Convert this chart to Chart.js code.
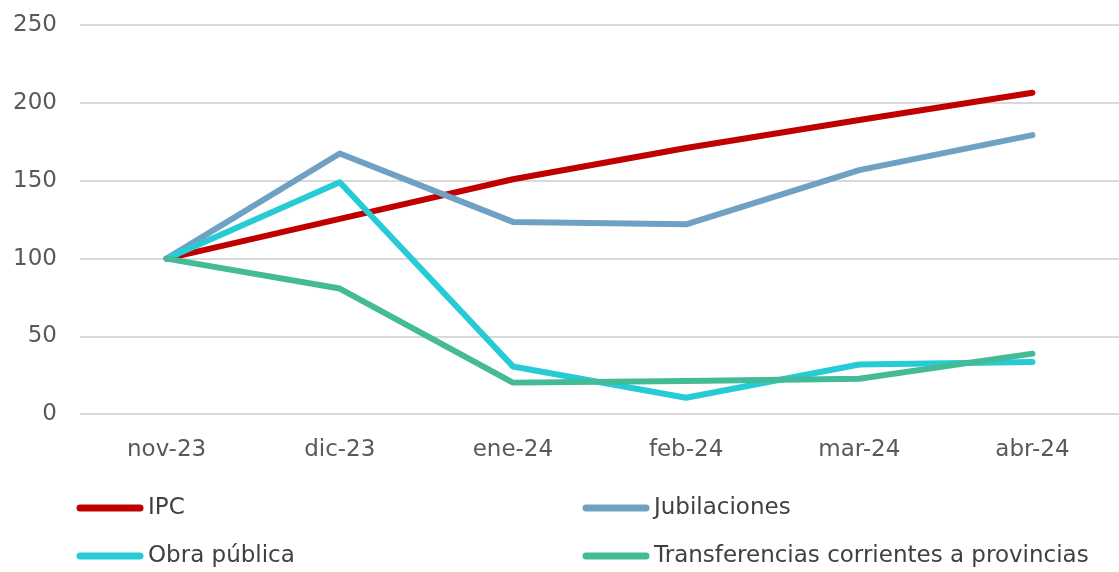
<!DOCTYPE html>
<html>
<head>
<meta charset="utf-8">
<script src="https://cdn.jsdelivr.net/npm/chart.js@4"></script>
<style>
html,body{margin:0;padding:0;background:#fff;}
#wrap{width:1119px;height:572px;position:relative;}
</style>
</head>
<body>
<div id="wrap"><canvas id="c" width="1119" height="572"></canvas></div>
<script>
const categories = ["nov-23", "dic-23", "ene-24", "feb-24", "mar-24", "abr-24"];
const ipc = [100, 125.5, 151, 171, 189, 206.5];
const jubilaciones = [100, 167.5, 123.6, 122, 156.8, 179.3];
const obraPublica = [100, 149, 30.8, 10.7, 32, 33.6];
const transferencias = [100, 80.8, 20.4, 21.4, 22.9, 39];
const seriesNames = ["IPC", "Jubilaciones", "Obra pública", "Transferencias corrientes a provincias"];
const seriesColors = ["#C00000", "#6FA1C3", "#26CBD6", "#43BB96"];
const yTicks = [0, 50, 100, 150, 200, 250];

const FONT = "'DejaVu Sans', sans-serif";

const legendPlugin = {
  id: 'gridLegend',
  afterDraw(chart) {
    const ctx = chart.ctx;
    const cols = [77, 583];
    const rows = [508, 556];
    chart.data.datasets.forEach((ds, i) => {
      const x = cols[i % 2];
      const y = rows[Math.floor(i / 2)];
      ctx.save();
      ctx.strokeStyle = ds.borderColor;
      ctx.lineWidth = 7;
      ctx.lineCap = 'round';
      ctx.beginPath();
      ctx.moveTo(x + 3, y);
      ctx.lineTo(x + 63, y);
      ctx.stroke();
      ctx.fillStyle = '#404040';
      ctx.font = "23px " + FONT;
      ctx.textBaseline = 'middle';
      ctx.textAlign = 'left';
      ctx.fillText(ds.label, x + 71, y);
      ctx.restore();
    });
  }
};

const datasets = [ipc, jubilaciones, obraPublica, transferencias].map((d, i) => ({
  label: seriesNames[i],
  data: d,
  order: 3 - i,
  borderColor: seriesColors[i],
  backgroundColor: seriesColors[i],
  borderWidth: 6,
  pointRadius: 0,
  pointHoverRadius: 0,
  borderCapStyle: 'round',
  borderJoinStyle: 'round',
  tension: 0,
  fill: false
}));

new Chart(document.getElementById('c'), {
  type: 'line',
  data: { labels: categories, datasets: datasets },
  options: {
    responsive: false,
    animation: false,
    devicePixelRatio: 1,
    layout: { padding: { top: 25, right: 0, bottom: 86, left: 0 } },
    plugins: {
      legend: { display: false },
      tooltip: { enabled: false }
    },
    scales: {
      x: {
        offset: true,
        grid: { display: false, drawTicks: false },
        border: { display: false },
        ticks: { color: '#595959', font: { family: FONT, size: 23 }, padding: 22, maxRotation: 0 }
      },
      y: {
        min: 0,
        max: 250,
        afterBuildTicks(scale) { scale.ticks = yTicks.map(v => ({ value: v })); },
        afterFit(scale) { scale.width = 80; scale.paddingTop = 0; scale.paddingBottom = 0; },
        grid: { color: '#D9D9D9', lineWidth: 2, drawTicks: false },
        border: { display: false },
        ticks: { color: '#595959', font: { family: FONT, size: 23 }, padding: 23 }
      }
    }
  },
  plugins: [legendPlugin]
});
</script>
</body>
</html>
